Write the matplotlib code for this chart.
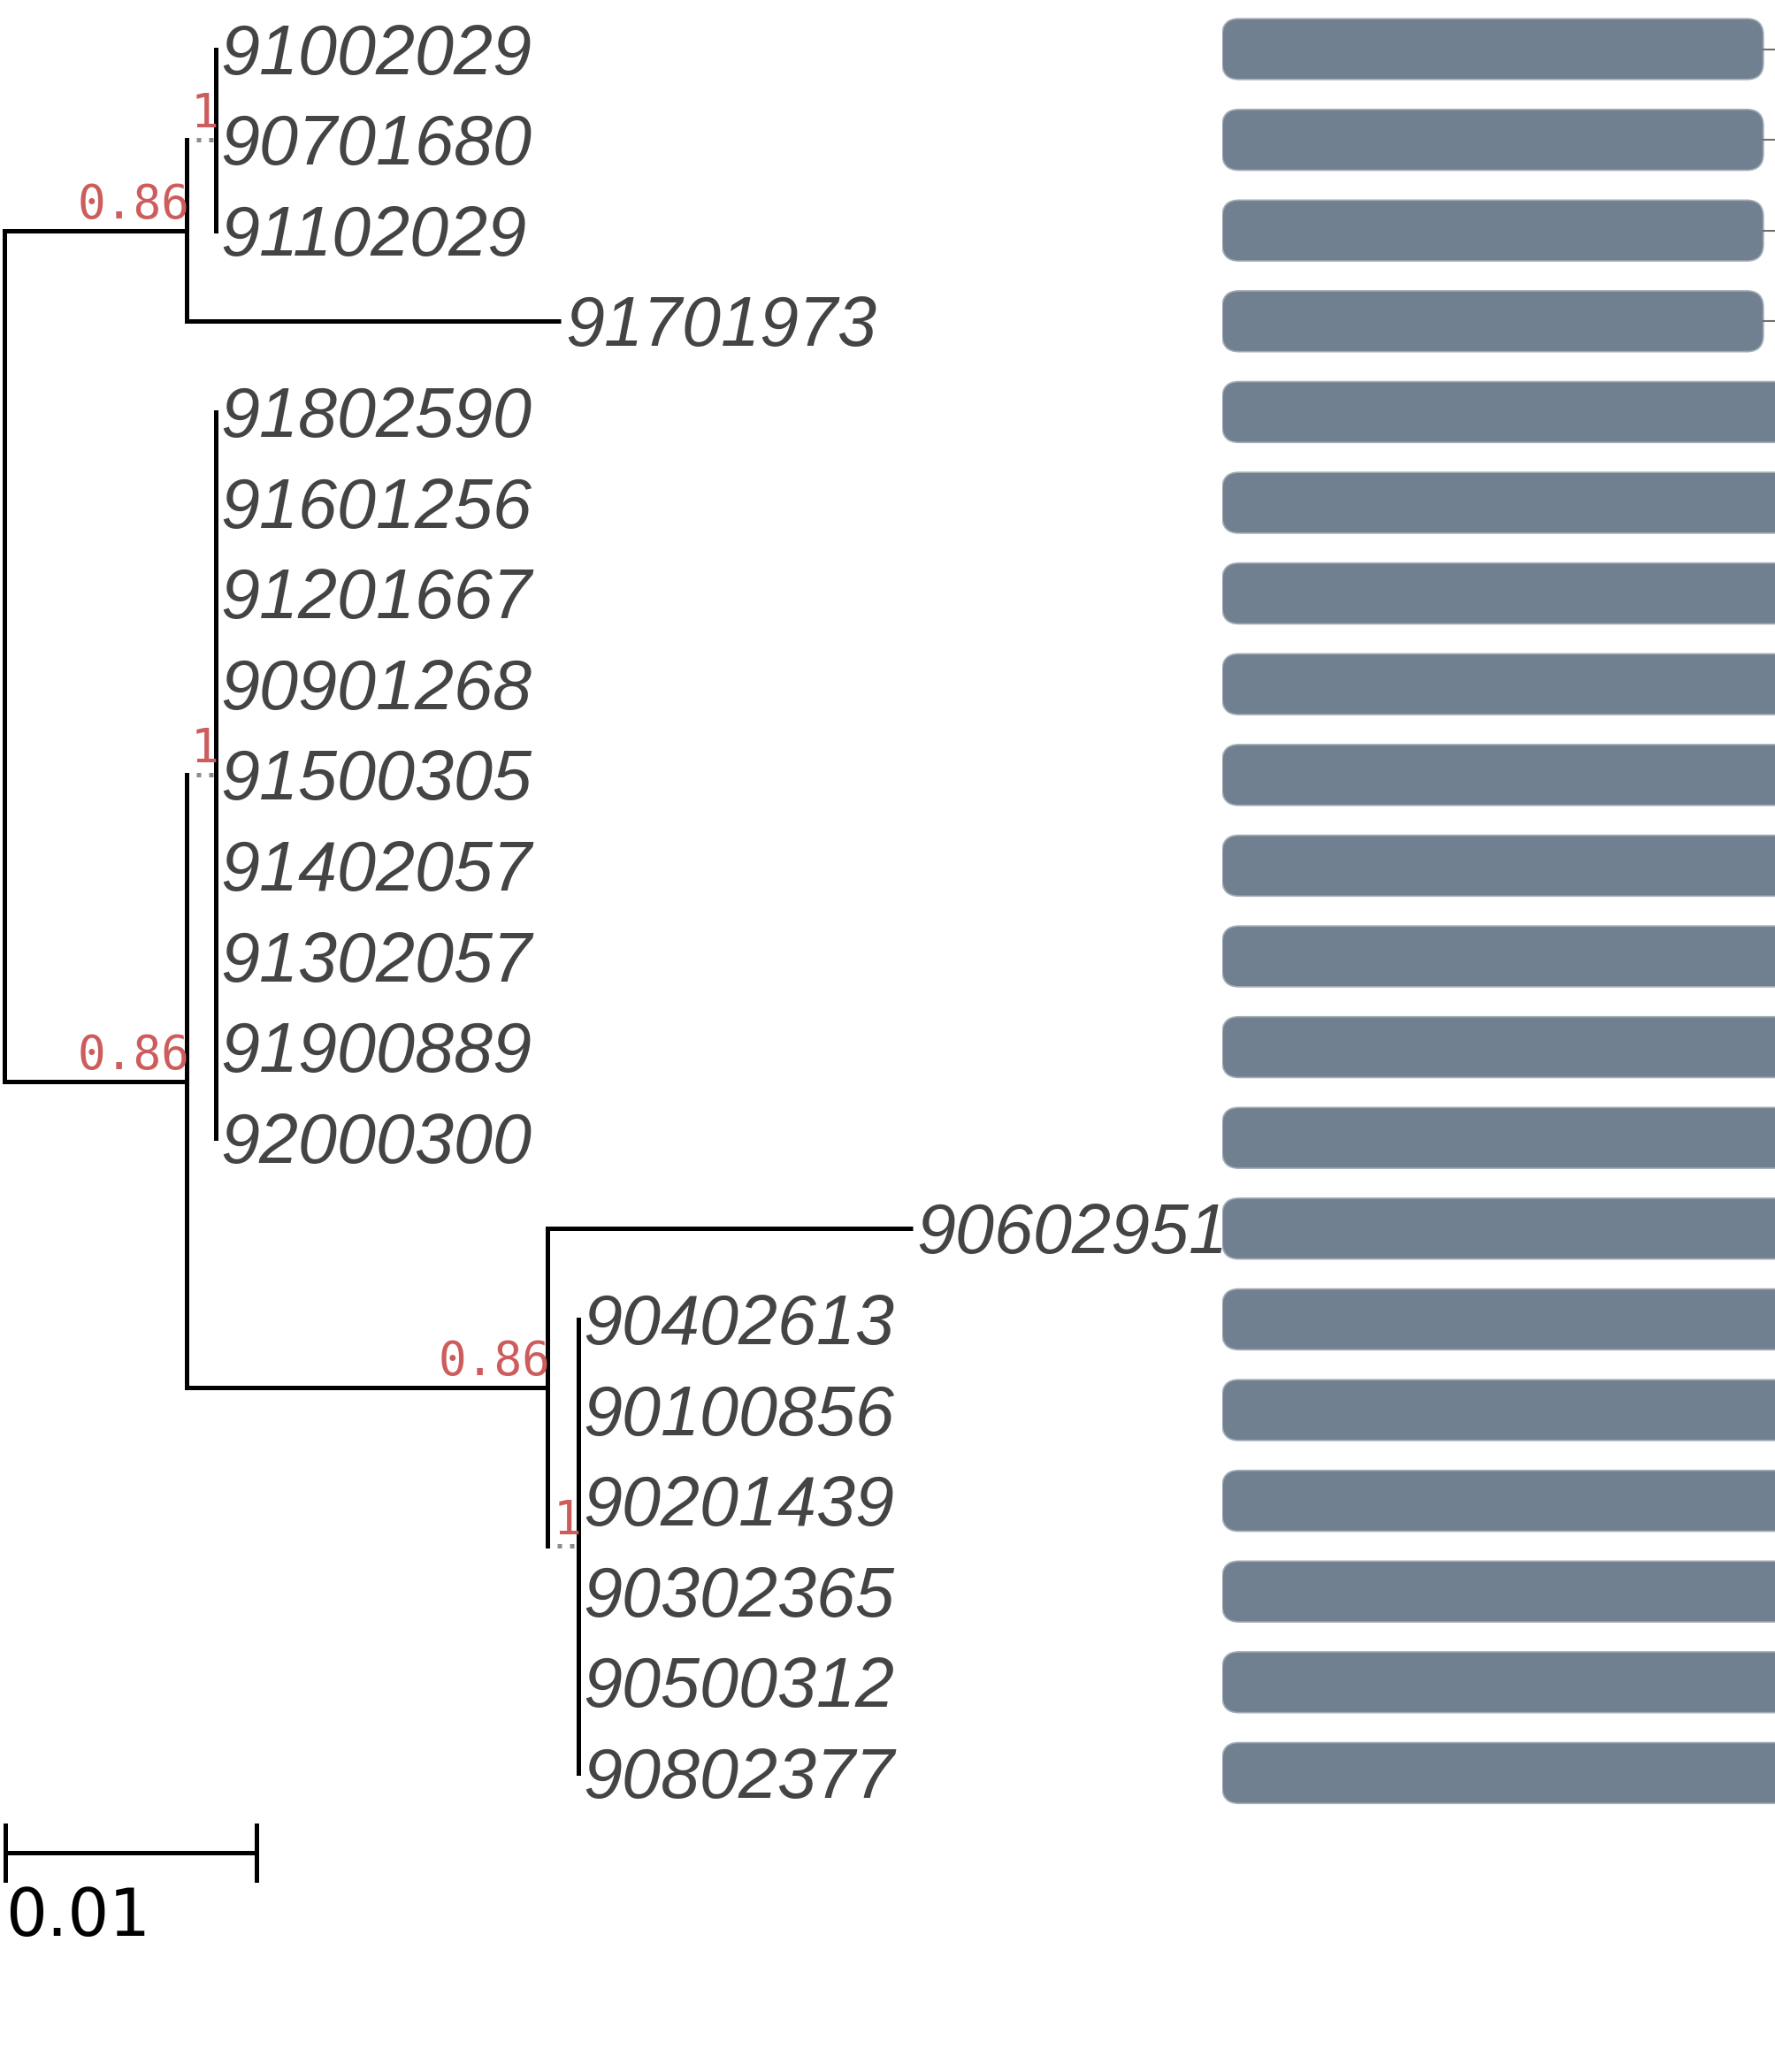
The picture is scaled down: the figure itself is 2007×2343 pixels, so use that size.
import matplotlib
matplotlib.use('Agg')
import matplotlib.pyplot as plt
from matplotlib.patches import FancyBboxPatch


# Tips, top to bottom
tip_labels = ['91002029', '90701680', '91102029', '91701973',
              '91802590', '91601256', '91201667', '90901268', '91500305',
              '91402057', '91302057', '91900889', '92000300',
              '90602951', '90402613', '90100856', '90201439', '90302365',
              '90500312', '90802377']

# Edges of the tree: parent, child, branch length
edge_parent = ['root', 'A', 'A', 'A1', 'A1', 'A1',
               'root', 'B', 'B', 'B1', 'B1', 'B1', 'B1', 'B1', 'B1', 'B1', 'B1', 'B1',
               'C', 'C', 'C1', 'C1', 'C1', 'C1', 'C1', 'C1']
edge_child = ['A', 'A1', '91701973', '91002029', '90701680', '91102029',
              'B', 'B1', 'C', '91802590', '91601256', '91201667', '90901268', '91500305',
              '91402057', '91302057', '91900889', '92000300',
              '90602951', 'C1', '90402613', '90100856', '90201439', '90302365',
              '90500312', '90802377']
edge_length = [0.0073, 0.00116, 0.01492, 0, 0, 0,
               0.0073, 0.00116, 0.01439, 0, 0, 0, 0, 0, 0, 0, 0, 0,
               0.01455, 0.00122, 0, 0, 0, 0, 0, 0]

# Bootstrap support on internal nodes
support_nodes = ['A', 'A1', 'B', 'B1', 'C', 'C1']
support_labels = ['0.86', '1', '0.86', '1', '0.86', '1']

# Right-hand bar panel
bar_values = [0.979, 0.979, 0.979, 0.979] + [1.05] * 16

scale_length = 0.01


# node coordinates
children = {}
for p, c, l in zip(edge_parent, edge_child, edge_length):
    children.setdefault(p, []).append((c, l))

xpos = {'root': 0.0}
ypos = {}
for i, t in enumerate(tip_labels):
    ypos[t] = i + 1


def place(node):
    for c, l in children.get(node, []):
        xpos[c] = xpos[node] + l
        place(c)
    if node in children:
        ys = [ypos[c] for c, l in children[node]]
        ypos[node] = sum(ys) / len(ys)


place('root')

W, H = 2007, 2343
px_per_unit = 28350
row_px = 102.6
first_row_px = 55.5

fig = plt.figure(figsize=(W / 100, H / 100), dpi=100)
ax = fig.add_axes([0, 0, 1, 1])
ax.set_xlim(-4.5 / px_per_unit, (W - 4.5) / px_per_unit)
ax.set_ylim(1 + (H - first_row_px) / row_px, 1 - first_row_px / row_px)
ax.axis('off')

lw = 3.6
# horizontal branches
for p, c, l in zip(edge_parent, edge_child, edge_length):
    if l == 0:
        continue
    if l < 0.002:
        ax.plot([xpos[p], xpos[c]], [ypos[c], ypos[c]], color='#8c8c8c',
                lw=lw, linestyle=(0.6, (1, 1.8)), solid_capstyle='butt')
    else:
        ax.plot([xpos[p], xpos[c]], [ypos[c], ypos[c]], color='black',
                lw=lw, solid_capstyle='butt')

# vertical connectors
for node, kids in children.items():
    ys = [ypos[c] for c, l in kids]
    ax.plot([xpos[node], xpos[node]], [min(ys), max(ys)], color='black',
            lw=lw, solid_capstyle='projecting')

# tip labels
for t in tip_labels:
    ax.annotate(t, (xpos[t], ypos[t]), xytext=(3.5, -5.5), textcoords='offset points',
                ha='left', va='center', fontsize=57, style='italic',
                family='Liberation Sans', color='#444444')

# support values
for n, s in zip(support_nodes, support_labels):
    ax.annotate(s, (xpos[n], ypos[n]), xytext=(2.5, 10), textcoords='offset points',
                ha='right', va='baseline', fontsize=38, family='DejaVu Sans Mono',
                color='#CD5C5C')

# scale bar
sb_x0 = 1.5 / px_per_unit
sb_y = 1 + (2095 - first_row_px) / row_px
ax.plot([sb_x0, sb_x0 + scale_length], [sb_y, sb_y], color='black', lw=lw)
for xx in [sb_x0, sb_x0 + scale_length]:
    ax.plot([xx, xx], [sb_y - 0.3, sb_y + 0.3], color='black', lw=lw)
ax.text(sb_x0, sb_y + 0.36, '%g' % scale_length, ha='left', va='top',
        fontsize=53, family='DejaVu Sans', color='black')

# bar panel
left_px = 1382
ax2 = fig.add_axes([left_px / W, 0, (W - left_px) / W, 1])
ax2.set_xlim(0, 1)
ax2.set_ylim(ax.get_ylim())
ax2.axis('off')
bar_h = 0.67
aspect = (W - left_px) / row_px
for i, v in enumerate(bar_values):
    y = i + 1
    box = FancyBboxPatch((0, y - bar_h / 2), v, bar_h,
                         boxstyle='round,pad=0,rounding_size=0.03',
                         mutation_aspect=aspect, facecolor='#708090',
                         edgecolor='#a3acb6', lw=1.2, clip_on=True)
    ax2.add_patch(box)
    if v < 1:
        ax2.plot([v, 1], [y, y], color='#707070', lw=1.5)

fig.savefig('out.png', dpi=100)
